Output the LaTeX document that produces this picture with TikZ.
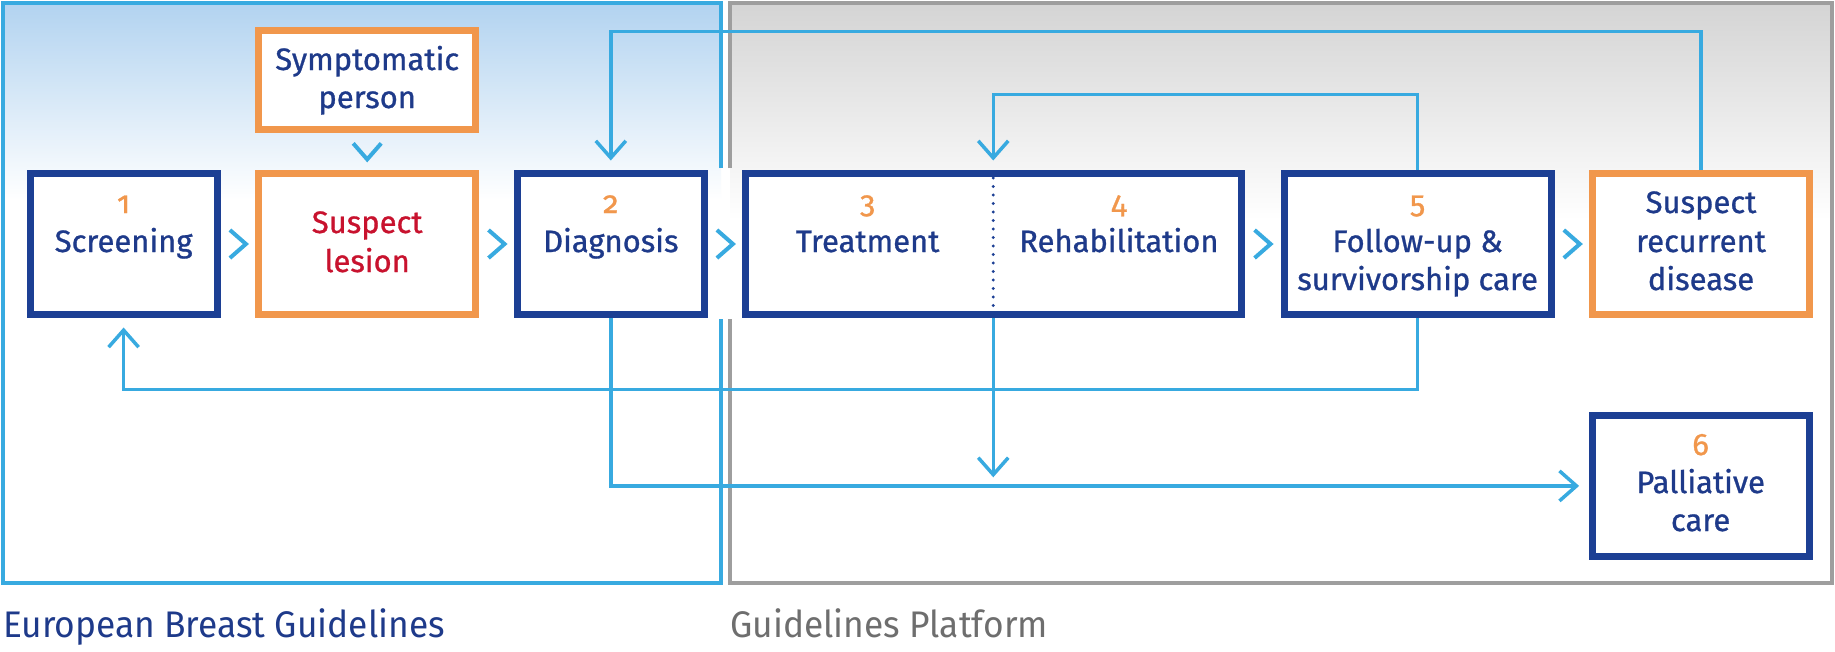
\documentclass[tikz,border=0pt]{standalone}
\usepackage{fontspec}
\setmainfont{Fira Sans}
\newfontfamily\boxfont[FakeBold=0.9]{Fira Sans}
\newfontfamily\numfont[Numbers=OldStyle,FakeBold=0.9]{Fira Sans}
\newfontfamily\capfont[FakeStretch=0.955]{Fira Sans}
\usetikzlibrary{arrows.meta,calc}

\definecolor{ebdark}{RGB}{28,63,148}
\definecolor{ebtext}{RGB}{30,58,138}
\definecolor{eborange}{RGB}{241,151,76}
\definecolor{ebred}{RGB}{200,18,46}
\definecolor{eblight}{RGB}{56,170,224}
\definecolor{ebgray}{RGB}{158,158,158}
\definecolor{ebgraytext}{RGB}{110,110,110}
\definecolor{ebshadeblue}{RGB}{178,211,240}
\definecolor{ebshadegray}{RGB}{212,212,212}

\begin{document}
\begin{tikzpicture}[x=1pt,y=-1pt,
  stagebox/.style={draw=ebdark, line width=7pt, fill=white, minimum height=141pt, inner sep=0pt},
  orangebox/.style={stagebox, draw=eborange},
  lbl/.style={text=ebtext, font=\boxfont\fontsize{31}{38}\selectfont, inner sep=0pt, anchor=base},
  num/.style={lbl, text=eborange, font=\numfont\fontsize{31}{38}\selectfont},
  redlbl/.style={lbl, text=ebred},
  chev/.style={draw=eblight, line width=4pt, line join=miter},
  conn/.style={draw=eblight, line width=3.5pt, -{Straight Barb[length=17pt,width=30pt]}, shorten >=9.5pt},
  divider/.style={draw=ebdark, line width=3.2pt, line cap=round, dash pattern=on 0pt off 8.5pt, shorten <=8pt, shorten >=8pt}
]
\useasboundingbox (0,0) rectangle (1835,651);
\fill[white] (0,0) rectangle (1835,651);

% background panels
\shade[top color=ebshadeblue, bottom color=white] (3,3) rectangle (721,200);
\shade[top color=ebshadegray, bottom color=white] (730,3) rectangle (1832,220);
\draw[eblight, line width=4pt] (721,168) -- (721,3) -- (3,3) -- (3,583) -- (721,583) -- (721,319);
\draw[ebgray, line width=3.5pt] (730,168) -- (730,3) -- (1832,3) -- (1832,583) -- (730,583) -- (730,319);

% baselines
\coordinate (bN) at (0,213);
\coordinate (bA) at (0,252);
\coordinate (bB) at (0,290);

% boxes
\node[stagebox, minimum width=187pt] (scr) at (123.6,244) {};
\node[orangebox, minimum width=217pt] (sus) at (367.2,244) {};
\node[orangebox, minimum width=217pt, minimum height=99pt] (sym) at (367.2,79.7) {};
\node[stagebox, minimum width=187pt] (dia) at (610.8,244) {};
\node[stagebox, minimum width=495.5pt] (tr) at (993.25,244) {};
\node[stagebox, minimum width=267pt] (fu) at (1417.6,244) {};
\node[orangebox, minimum width=217pt] (rec) at (1701,244) {};
\node[stagebox, minimum width=217pt] (pal) at (1700.6,485.9) {};

\draw[divider] (tr.north) -- (tr.south);

\coordinate (trl) at ($(tr.west)!0.5!(tr.center)$);
\coordinate (trr) at ($(tr.center)!0.5!(tr.east)$);

% texts
\node[lbl] (symA) at (367.2,70) {Symptomatic};
\node[lbl] (symB) at (367.2,108) {person};

\node[num] (n1) at (scr.center |- bN) {1};
\node[lbl] (t1) at (scr.center |- bA) {Screening};

\node[redlbl] (susA) at (367.2,233) {Suspect};
\node[redlbl] (susB) at (367.2,272) {lesion};

\node[num] (n2) at (dia.center |- bN) {2};
\node[lbl] (t2) at (dia.center |- bA) {Diagnosis};

\node[num] (n3) at (trl |- bN) {3};
\node[lbl] (t3) at (trl |- bA) {Treatment};
\node[num] (n4) at (trr |- bN) {4};
\node[lbl] (t4) at (trr |- bA) {Rehabilitation};

\node[num] (n5) at (fu.center |- bN) {5};
\node[lbl] (t5a) at (fu.center |- bA) {Follow-up \&};
\node[lbl] (t5b) at (fu.center |- bB) {survivorship care};

\node[lbl] (recA) at (rec.center |- bN) {Suspect};
\node[lbl] (recB) at (rec.center |- bA) {recurrent};
\node[lbl] (recC) at (rec.center |- bB) {disease};

\node[num] (n6) at (1700.6,455) {6};
\node[lbl] (t6a) at (1700.6,493) {Palliative};
\node[lbl] (t6b) at (1700.6,531) {care};

% chevrons
\draw[chev] ($(scr.east)!0.5!(sus.west)$) ++(-8,-14) -- ++(16,14) -- ++(-16,14);
\draw[chev] ($(sus.east)!0.5!(dia.west)$) ++(-8,-14) -- ++(16,14) -- ++(-16,14);
\draw[chev] ($(dia.east)!0.5!(tr.west)$) ++(-8,-14) -- ++(16,14) -- ++(-16,14);
\draw[chev] ($(tr.east)!0.5!(fu.west)$) ++(-8,-14) -- ++(16,14) -- ++(-16,14);
\draw[chev] ($(fu.east)!0.5!(rec.west)$) ++(-8,-14) -- ++(16,14) -- ++(-16,14);
\draw[chev] ($(sym.south)!0.5!(sus.north)$) ++(-14,-8) -- ++(14,16) -- ++(14,-16);

% connectors
\coordinate (hTop) at (0,31.7);
\coordinate (hMid) at (0,94.3);
\coordinate (hLow) at (0,389.3);
\draw[conn] (rec.north) -- (rec.north |- hTop) -| (dia.north);
\draw[conn] (fu.north) -- (fu.north |- hMid) -| (tr.north);
\draw[conn] (fu.south) -- (fu.south |- hLow) -| (scr.south);
\draw[conn] (dia.south) |- (pal.west);
\draw[conn, shorten >=8.6pt] (tr.south) -- (tr.south |- pal.west);

% panel captions
\node[anchor=base west, inner sep=0pt, text=ebtext, font=\capfont\fontsize{37}{44}\selectfont] (cap1) at (3,637) {European Breast Guidelines};
\node[anchor=base west, inner sep=0pt, text=ebgraytext, font=\capfont\fontsize{37}{44}\selectfont] (cap2) at (730,637) {Guidelines Platform};
\end{tikzpicture}
\end{document}
